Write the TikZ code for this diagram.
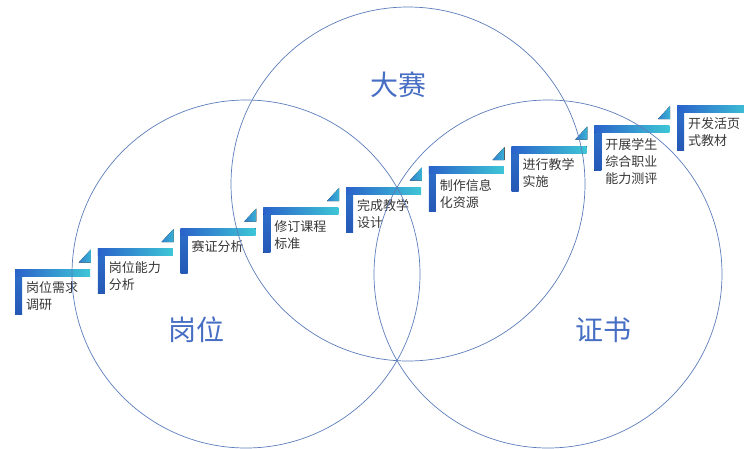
\documentclass[tikz,border=0pt]{standalone}
\usepackage{fontspec}
\newfontfamily\cjk{Noto Sans CJK SC}
\usetikzlibrary{positioning}
\definecolor{ring1}{RGB}{92,124,186}
\definecolor{lab1}{RGB}{70,110,195}
\definecolor{bar1}{RGB}{42,98,202}
\definecolor{bar2}{RGB}{62,198,214}
\definecolor{txt1}{RGB}{55,55,55}

\begin{document}
\begin{tikzpicture}[
    x=1pt, y=-1pt,
    font=\cjk,
    ring/.style={
        circle, draw=ring1, line width=0.7pt,
        inner sep=0pt
    },
    big/.style={font=\cjk\fontsize{28}{30}\selectfont, text=lab1},
    stepbox/.style={
        anchor=north west, align=left, inner sep=0pt,
        font=\cjk\fontsize{13}{17}\selectfont, text=txt1
    },
    hbar/.style={left color=bar1, right color=bar2},
    vbar/.style={top color=bar1!85!bar2, bottom color=bar1!90!black},
    tri/.style={left color=bar1!70!bar2, right color=bar2!80!bar1}
]

\useasboundingbox (0,0) rectangle (744,448);
\clip (0,0) rectangle (744,448);

\node [stepbox] (s1) at (26,281.5) {岗位需求\\调研};
\node [stepbox, above right=20.5pt and 82.75pt of s1.north west, anchor=north west] (s2) {岗位能力\\分析};
\node [stepbox, above right=20.5pt and 82.75pt of s2.north west, anchor=north west] (s3) {赛证分析};
\node [stepbox, above right=20.5pt and 82.75pt of s3.north west, anchor=north west] (s4) {修订课程\\标准};
\node [stepbox, above right=20.5pt and 82.75pt of s4.north west, anchor=north west] (s5) {完成教学\\设计};
\node [stepbox, above right=20.5pt and 82.75pt of s5.north west, anchor=north west] (s6) {制作信息\\化资源};
\node [stepbox, above right=20.5pt and 82.75pt of s6.north west, anchor=north west] (s7) {进行教学\\实施};
\node [stepbox, above right=20.5pt and 82.75pt of s7.north west, anchor=north west] (s8) {开展学生\\综合职业\\能力测评};
\node [stepbox, above right=20.5pt and 82.75pt of s8.north west, anchor=north west] (s9) {开发活页\\式教材};

\foreach \i in {1,...,9} {
    \fill [vbar] ([shift={(-11,-12.5)}]s\i.north west) rectangle +(7,45);
    \fill [hbar] ([shift={(-11,-12.5)}]s\i.north west) rectangle +(75,7);
}
\foreach \i in {2,...,9}
    \fill [tri] ([shift={(-30,1.5)}]s\i.north west) -- ++(12,0) -- ++(0,-13) -- cycle;

\node [ring, minimum size=354pt] (dasai) at (408,184) {};
\node [ring, minimum size=348pt] (gangwei) at (246,274) {};
\node [ring, minimum size=348pt] (zhengshu) at (548,274) {};

\node [big] (l1) at (398,85) {大赛};
\node [big] (l2) at (196,330) {岗位};
\node [big] (l3) at (603,330) {证书};

\end{tikzpicture}
\end{document}
